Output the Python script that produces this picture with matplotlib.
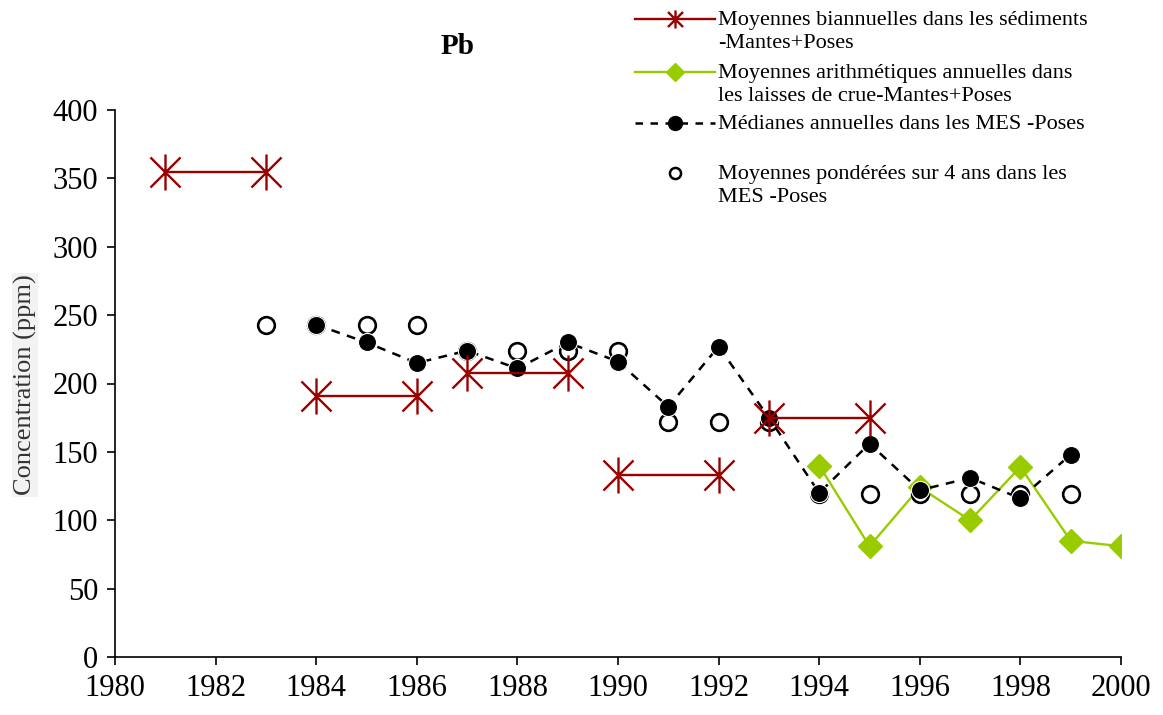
import matplotlib
matplotlib.use("Agg")
import matplotlib.pyplot as plt
from matplotlib.path import Path
from matplotlib.lines import Line2D

plt.rcParams['font.family'] = ['Liberation Serif', 'DejaVu Serif']

# biannual means in sediments (start year, end year, value)
sed_start = [1981, 1984, 1987, 1990, 1993]
sed_end = [1983, 1986, 1989, 1992, 1995]
sed_values = [355, 191, 208, 133, 175]

# arithmetic annual means in flood deposits
flood_years = [1994, 1995, 1996, 1997, 1998, 1999, 2000]
flood_values = [140, 81, 124, 100, 139, 85, 81]

# annual medians in suspended matter
med_years = list(range(1984, 2000))
med_values = [243, 230, 215, 224, 211, 230, 216, 183, 227, 175, 120, 156, 122, 131, 116, 148]

# 4-year weighted means in suspended matter
wavg_years = list(range(1983, 2000))
wavg_values = [243, 243, 243, 243, 224, 224, 224, 224, 172, 172, 172,
               119, 119, 119, 119, 119, 119]

labels = ["Moyennes biannuelles dans les sédiments\n-Mantes+Poses",
          "Moyennes arithmétiques annuelles dans\nles laisses de crue-Mantes+Poses",
          "Médianes annuelles dans les MES -Poses",
          "Moyennes pondérées sur 4 ans dans les\nMES -Poses"]

red = '#990000'
green = '#99cc00'

# asterisk marker: x plus vertical bar
star = Path([(-1, -1), (1, 1), (-1, 1), (1, -1), (0, -1.2), (0, 1.2)],
            [Path.MOVETO, Path.LINETO, Path.MOVETO, Path.LINETO, Path.MOVETO, Path.LINETO])

fig = plt.figure(figsize=(11.63, 7.15), dpi=100)
W, H = 1163, 715
ax = fig.add_axes([115 / W, 58 / H, 1006 / W, 547 / H])

for x0, x1, v in zip(sed_start, sed_end, sed_values):
    ax.plot([x0, x1], [v, v], color=red, lw=1.7, marker=star, markersize=26,
            markeredgewidth=1.7, zorder=5)

ax.plot(flood_years, flood_values, color=green, lw=1.7, marker='D', markersize=12.5,
        markerfacecolor=green, markeredgecolor=green, zorder=2)
ax.plot(wavg_years, wavg_values, ls='none', marker='o', markersize=12,
        markerfacecolor='white', markeredgecolor='black', markeredgewidth=1.9, zorder=3)
ax.plot(med_years, med_values, color='black', ls=(0, (3.5, 3)), lw=1.8, marker='o',
        markersize=13, markerfacecolor='black', markeredgecolor='white',
        markeredgewidth=0.8, zorder=4)

ax.set_xlim(1980, 2000)
ax.set_ylim(0, 400)
ax.set_xticks(range(1980, 2001, 2))
ax.set_yticks(range(0, 401, 50))
ax.tick_params(axis='both', direction='out', length=6, width=1.2, labelsize=22, pad=6)
ax.spines['top'].set_visible(False)
ax.spines['right'].set_visible(False)
for s in ('left', 'bottom'):
    ax.spines[s].set_linewidth(1.2)
for lab in ax.get_xticklabels() + ax.get_yticklabels():
    lab.set_clip_on(False)

fig.text(25 / W, 1 - 385 / H, "Concentration (ppm)", rotation=90, fontsize=19,
         color='#333333', ha='center', va='center',
         bbox=dict(facecolor='#f2f2f2', edgecolor='none', pad=1))
fig.text(458 / W, 1 - 46 / H, "Pb", fontsize=21, fontweight='bold', ha='center', va='center')

# legend drawn by hand so that handles line up with the first text line
hx0, hx1, hm, tx = 635, 715, 675, 718
rows = [19, 72, 123, 173]
styles = [dict(color=red, lw=1.7, marker=star, markersize=13, markeredgewidth=1.7),
          dict(color=green, lw=1.7, marker='D', markersize=9, markerfacecolor=green,
               markeredgecolor=green),
          dict(color='black', lw=1.8, ls=(0, (3, 3)), marker='o', markersize=10,
               markerfacecolor='black'),
          None]
for y, st, lab in zip(rows, styles, labels):
    yf = 1 - y / H
    if st is not None:
        fig.add_artist(Line2D([hx0 / W, hx1 / W], [yf, yf], transform=fig.transFigure,
                              markevery=[], **st))
        mk = {k: v for k, v in st.items() if k not in ('lw', 'ls')}
        fig.add_artist(Line2D([hm / W], [yf], transform=fig.transFigure, ls='none', **mk))
    else:
        fig.add_artist(Line2D([hm / W], [yf], transform=fig.transFigure, ls='none',
                              marker='o', markersize=8, markerfacecolor='white',
                              markeredgecolor='black', markeredgewidth=1.8))
    fig.text(tx / W, yf + 8 / H, lab, fontsize=16, ha='left', va='top', linespacing=1.32)

fig.savefig("out.png", dpi=100)
